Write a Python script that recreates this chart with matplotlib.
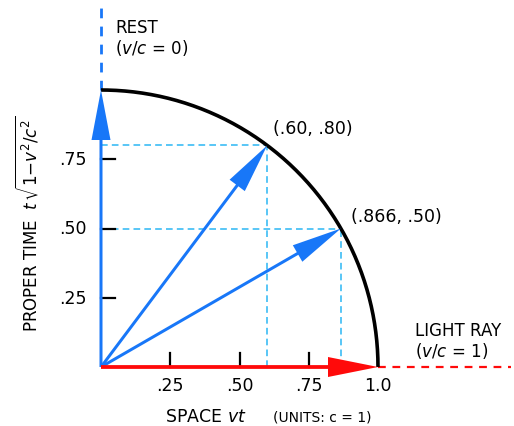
import matplotlib
matplotlib.use("Agg")
import matplotlib.pyplot as plt
import numpy as np

plt.rcParams["font.family"] = ["DejaVu Sans"]
plt.rcParams["mathtext.fontset"] = "dejavusans"

# data
points_x = [0.60, 0.866]
points_y = [0.80, 0.50]
point_labels = ["(.60, .80)", "(.866, .50)"]
tick_values = [0.25, 0.50, 0.75]
x_tick_labels = [".25", ".50", ".75", "1.0"]
x_tick_pos = [0.25, 0.50, 0.75, 1.0]
y_tick_labels = [".25", ".50", ".75"]

BLUE = "#1877f8"
LIGHT_BLUE = "#3cbcf5"
RED = "#ff0a0a"

PX = 277.0  # pixels per data unit
fig = plt.figure(figsize=(5.14, 4.27), dpi=100)
ax = fig.add_axes([0, 0, 1, 1])
ax.set_xlim(-101 / PX, 413 / PX)
ax.set_ylim(-59 / PX, 368 / PX)
ax.axis("off")

u = 1 / PX
hw, hl, sw = 19 * u, 50 * u, 3.0 * u

# dashed projections
for px_, py_ in zip(points_x, points_y):
    ax.plot([0, px_], [py_, py_], color=LIGHT_BLUE, lw=1.2, ls=(0, (4, 2.5)), zorder=1)
    ax.plot([px_, px_], [0, py_], color=LIGHT_BLUE, lw=1.2, ls=(0, (4, 2.5)), zorder=1)

# unit circle arc
theta = np.linspace(0, np.pi / 2, 200)
ax.plot(np.cos(theta), np.sin(theta), color="black", lw=2.6, zorder=2, solid_capstyle="butt")

# rest / light ray extensions
ax.plot([0, 0], [1.0, 1.3], color=BLUE, lw=2.0, ls=(0, (3.5, 3)), zorder=1)
ax.plot([1.0, 1.48], [0, 0], color=RED, lw=1.6, ls=(0, (3.5, 3)), zorder=1)

# ticks
for t in tick_values:
    ax.plot([t, t], [0, 14 * u], color="black", lw=1.6, zorder=2)
    ax.plot([0, 14 * u], [t, t], color="black", lw=1.6, zorder=2)

# velocity arrows
for px_, py_ in zip(points_x, points_y):
    ax.arrow(0, 0, px_, py_, width=sw, head_width=hw, head_length=hl,
             length_includes_head=True, color=BLUE, lw=0, zorder=4)
ax.arrow(0, 0, 0, 1.0, width=sw, head_width=hw, head_length=hl,
         length_includes_head=True, color=BLUE, lw=0, zorder=4)
ax.arrow(0, 0, 1.0, 0, width=3.8 * u, head_width=20 * u, head_length=hl,
         length_includes_head=True, color=RED, lw=0, zorder=5)

# tick labels
for xv, lab in zip(x_tick_pos, x_tick_labels):
    ax.text(xv, -23 * u, lab, ha="center", va="baseline", fontsize=12.5)
for yv, lab in zip(tick_values, y_tick_labels):
    ax.text(-14 * u, yv, lab, ha="right", va="center", fontsize=12.5)

# point labels
ax.text(points_x[0] + 6 * u, points_y[0] + 12 * u, point_labels[0], fontsize=12.5, va="baseline")
ax.text(points_x[1] + 10 * u, points_y[1] + 7 * u, point_labels[1], fontsize=12.5, va="baseline")

# annotations
ax.text(14 * u, 335 * u, "REST", fontsize=12, va="baseline")
ax.text(14 * u, 314 * u, "($v/c$ = 0)", fontsize=12, va="baseline")
ax.text(314 * u, 32 * u, "LIGHT RAY", fontsize=12, va="baseline")
ax.text(314 * u, 11 * u, "($v/c$ = 1)", fontsize=12, va="baseline")

# axis titles
ax.text(64 * u, -54 * u, "SPACE $vt$", fontsize=12.5, va="baseline")
ax.text(172 * u, -54 * u, "(UNITS: c = 1)", fontsize=10, va="baseline")
ax.text(-73 * u, 36 * u, r"PROPER TIME  $t\,\sqrt{1\mathrm{-}v^2/c^2}$", fontsize=12,
        rotation=90, ha="left", va="center", rotation_mode="anchor")

fig.savefig("out.png", dpi=100)
